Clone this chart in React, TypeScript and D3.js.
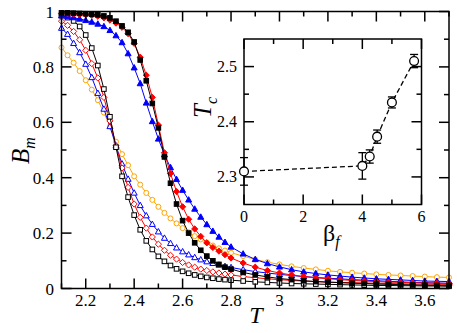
import React from 'react';
import * as d3 from 'd3';

// temperatures of the simulation points
const temps = [
  2.1, 2.125, 2.15, 2.175, 2.2, 2.225, 2.25, 2.275, 2.3, 2.325,
  2.35, 2.375, 2.4, 2.425, 2.45, 2.475, 2.5, 2.525, 2.55, 2.575,
  2.6, 2.625, 2.65, 2.675, 2.7, 2.725, 2.75, 2.775, 2.8,
  2.85, 2.9, 2.95, 3.0, 3.05, 3.1, 3.15, 3.2, 3.25, 3.3,
  3.35, 3.4, 3.45, 3.5, 3.55, 3.6, 3.65, 3.7,
];

const blackFilled = [
  0.995, 0.995, 0.994, 0.993, 0.992, 0.99, 0.988, 0.984, 0.977, 0.965,
  0.948, 0.925, 0.89, 0.825, 0.75, 0.668, 0.58, 0.475, 0.38, 0.305,
  0.245, 0.2, 0.165, 0.138, 0.117, 0.1, 0.087, 0.077, 0.07,
  0.058, 0.049, 0.042, 0.036, 0.032, 0.028, 0.025, 0.023, 0.021, 0.019,
  0.018, 0.016, 0.015, 0.014, 0.013, 0.012, 0.011, 0.011,
];
const redFilled = [
  0.993, 0.992, 0.991, 0.99, 0.988, 0.986, 0.983, 0.977, 0.969, 0.958,
  0.943, 0.92, 0.885, 0.835, 0.77, 0.69, 0.59, 0.49, 0.415, 0.35,
  0.295, 0.25, 0.215, 0.188, 0.165, 0.148, 0.135, 0.122, 0.11,
  0.092, 0.077, 0.065, 0.056, 0.049, 0.043, 0.039, 0.035, 0.032, 0.029,
  0.027, 0.025, 0.023, 0.022, 0.021, 0.02, 0.019, 0.018,
];
const blueFilled = [
  0.985, 0.982, 0.978, 0.973, 0.968, 0.962, 0.955, 0.946, 0.932, 0.913,
  0.888, 0.848, 0.797, 0.74, 0.67, 0.603, 0.54, 0.483, 0.437, 0.394,
  0.355, 0.32, 0.287, 0.258, 0.231, 0.207, 0.186, 0.167, 0.15,
  0.125, 0.105, 0.09, 0.078, 0.068, 0.06, 0.054, 0.049, 0.045, 0.041,
  0.038, 0.035, 0.033, 0.031, 0.029, 0.027, 0.026, 0.025,
];
const orangeOpen = [
  0.87, 0.842, 0.815, 0.785, 0.752, 0.718, 0.68, 0.635, 0.585, 0.53,
  0.485, 0.445, 0.405, 0.375, 0.345, 0.32, 0.295, 0.273, 0.253, 0.235,
  0.218, 0.203, 0.189, 0.177, 0.166, 0.155, 0.145, 0.137, 0.129,
  0.117, 0.105, 0.095, 0.087, 0.08, 0.074, 0.069, 0.064, 0.06, 0.057,
  0.054, 0.051, 0.049, 0.047, 0.045, 0.043, 0.041, 0.04,
];
const blueOpen = [
  0.94, 0.918, 0.885, 0.852, 0.81, 0.762, 0.705, 0.648, 0.585, 0.515,
  0.45, 0.395, 0.345, 0.3, 0.263, 0.232, 0.205, 0.182, 0.163, 0.147,
  0.133, 0.122, 0.112, 0.104, 0.097, 0.091, 0.085, 0.08, 0.076,
  0.068, 0.061, 0.056, 0.051, 0.047, 0.043, 0.04, 0.037, 0.035, 0.032,
  0.03, 0.028, 0.026, 0.024, 0.022, 0.021, 0.02, 0.019,
];
const redOpen = [
  0.965, 0.95, 0.928, 0.898, 0.86, 0.812, 0.76, 0.69, 0.605, 0.515,
  0.435, 0.365, 0.305, 0.257, 0.218, 0.186, 0.16, 0.138, 0.12, 0.106,
  0.094, 0.085, 0.077, 0.07, 0.065, 0.06, 0.056, 0.052, 0.049,
  0.043, 0.039, 0.035, 0.032, 0.029, 0.027, 0.025, 0.023, 0.022, 0.021,
  0.02, 0.019, 0.018, 0.017, 0.016, 0.016, 0.015, 0.015,
];
const blackOpen = [
  0.985, 0.978, 0.966, 0.946, 0.915, 0.868, 0.805, 0.72, 0.62, 0.51,
  0.405, 0.33, 0.265, 0.212, 0.172, 0.141, 0.116, 0.098, 0.083, 0.071,
  0.062, 0.055, 0.049, 0.044, 0.04, 0.037, 0.034, 0.032, 0.03,
  0.027, 0.024, 0.022, 0.02, 0.018, 0.017, 0.016, 0.015, 0.014, 0.013,
  0.012, 0.011, 0.011, 0.01, 0.01, 0.009, 0.009, 0.008,
];

// inset: Tc vs beta_f
const betaF = [0, 4, 4.25, 4.5, 5, 5.75];
const tc = [2.31, 2.32, 2.337, 2.373, 2.435, 2.51];
const tcErr = [0.025, 0.024, 0.012, 0.012, 0.01, 0.012];

const xTicks = [2.2, 2.4, 2.6, 2.8, 3, 3.2, 3.4, 3.6];
const xMinor = [2.1, 2.3, 2.5, 2.7, 2.9, 3.1, 3.3, 3.5, 3.7];
const yTicks = [0, 0.2, 0.4, 0.6, 0.8, 1];
const yMinor = [0.1, 0.3, 0.5, 0.7, 0.9];
const insetXTicks = [0, 2, 4, 6];
const insetXMinor = [1, 3, 5];
const insetYTicks = [2.3, 2.4, 2.5];
const insetYMinor = [2.35, 2.45];

const series = [
  { vals: orangeOpen, color: '#ffa500', shape: 'circle', filled: false },
  { vals: blueOpen, color: '#0000ff', shape: 'triangle', filled: false },
  { vals: redOpen, color: '#ff0000', shape: 'diamond', filled: false },
  { vals: blackOpen, color: '#000000', shape: 'square', filled: false },
  { vals: blueFilled, color: '#0000ff', shape: 'triangle', filled: true },
  { vals: redFilled, color: '#ff0000', shape: 'diamond', filled: true },
  { vals: blackFilled, color: '#000000', shape: 'square', filled: true },
];

const W = 457, H = 333;
const serif = { fontFamily: "'Liberation Serif', 'Times New Roman', Times, serif" };

const Marker = ({ shape, x, y, color, filled }) => {
  const fill = filled ? color : 'white';
  const sw = 1;
  if (shape === 'square')
    return <rect x={x - 2.3} y={y - 2.3} width={4.6} height={4.6} fill={fill} stroke={color} strokeWidth={sw} />;
  if (shape === 'circle')
    return <circle cx={x} cy={y} r={2.5} fill={fill} stroke={color} strokeWidth={sw} />;
  if (shape === 'diamond')
    return <path d={`M${x},${y - 3.1}L${x + 3.1},${y}L${x},${y + 3.1}L${x - 3.1},${y}Z`} fill={fill} stroke={color} strokeWidth={sw} />;
  return <path d={`M${x},${y - 3.2}L${x + 3},${y + 2.2}L${x - 3},${y + 2.2}Z`} fill={fill} stroke={color} strokeWidth={sw} />;
};

export default function App() {
  const x = d3.scaleLinear().domain([2.1, 3.7]).range([61.5, 449]);
  const y = d3.scaleLinear().domain([0, 1]).range([288.5, 11.5]);

  const ix = d3.scaleLinear().domain([0, 6]).range([244, 421.5]);
  const iy = d3.scaleLinear().domain([2.25, 2.55]).range([204.5, 39]);

  const line = d3.line<number>().x((_, i) => x(temps[i])).y(d => y(d));
  const insetLine = d3.line<number>().x((_, i) => ix(betaF[i])).y(d => iy(d));

  const [x0, x1] = x.range();
  const [y0, y1] = y.range();
  const [ix0, ix1] = ix.range();
  const [iy0, iy1] = iy.range();

  return (
    <svg width={W} height={H} style={{ position: 'absolute', left: 0, top: 0, background: 'white' }}>
      {/* curves */}
      {series.map((s, k) => (
        <g key={k}>
          <path d={line(s.vals)} fill="none" stroke={s.color} strokeWidth={1} />
          {s.vals.map((v, i) => (
            <Marker key={i} shape={s.shape} x={x(temps[i])} y={y(v)} color={s.color} filled={s.filled} />
          ))}
        </g>
      ))}

      {/* main frame and ticks */}
      <g stroke="black" strokeWidth={1.5}>
        <rect x={x0} y={y1} width={x1 - x0} height={y0 - y1} fill="none" />
        {xTicks.map(t => (
          <g key={t}>
            <line x1={x(t)} x2={x(t)} y1={y0} y2={y0 - 10} />
            <line x1={x(t)} x2={x(t)} y1={y1} y2={y1 + 10} />
          </g>
        ))}
        {xMinor.map(t => (
          <g key={t}>
            <line x1={x(t)} x2={x(t)} y1={y0} y2={y0 - 5} />
            <line x1={x(t)} x2={x(t)} y1={y1} y2={y1 + 5} />
          </g>
        ))}
        {yTicks.map(t => (
          <g key={t}>
            <line x1={x0} x2={x0 + 10} y1={y(t)} y2={y(t)} />
            <line x1={x1} x2={x1 - 10} y1={y(t)} y2={y(t)} />
          </g>
        ))}
        {yMinor.map(t => (
          <g key={t}>
            <line x1={x0} x2={x0 + 5} y1={y(t)} y2={y(t)} />
            <line x1={x1} x2={x1 - 5} y1={y(t)} y2={y(t)} />
          </g>
        ))}
      </g>
      <g style={serif} fontSize={17} fill="black">
        {xTicks.map(t => (
          <text key={t} x={x(t)} y={306} textAnchor="middle">{d3.format('~g')(t)}</text>
        ))}
        {yTicks.map(t => (
          <text key={t} x={54} y={y(t) + 6} textAnchor="end">{d3.format('~g')(t)}</text>
        ))}
      </g>
      <text x={256} y={323} textAnchor="middle" style={serif} fontSize={24} fontStyle="italic">T</text>
      <text transform="translate(29,164) rotate(-90)" style={serif} fontSize={25} fontStyle="italic">
        B<tspan fontSize={16} dy={6}>m</tspan>
      </text>

      {/* inset */}
      <rect x={ix0} y={iy1} width={ix1 - ix0} height={iy0 - iy1} fill="white" stroke="black" strokeWidth={1.5} />
      <g stroke="black" strokeWidth={1.5}>
        {insetXTicks.map(t => (
          <g key={t}>
            <line x1={ix(t)} x2={ix(t)} y1={iy0} y2={iy0 - 10} />
            <line x1={ix(t)} x2={ix(t)} y1={iy1} y2={iy1 + 10} />
          </g>
        ))}
        {insetXMinor.map(t => (
          <g key={t}>
            <line x1={ix(t)} x2={ix(t)} y1={iy0} y2={iy0 - 5} />
            <line x1={ix(t)} x2={ix(t)} y1={iy1} y2={iy1 + 5} />
          </g>
        ))}
        {insetYTicks.map(t => (
          <g key={t}>
            <line x1={ix0} x2={ix0 + 10} y1={iy(t)} y2={iy(t)} />
            <line x1={ix1} x2={ix1 - 10} y1={iy(t)} y2={iy(t)} />
          </g>
        ))}
        {insetYMinor.map(t => (
          <g key={t}>
            <line x1={ix0} x2={ix0 + 5} y1={iy(t)} y2={iy(t)} />
            <line x1={ix1} x2={ix1 - 5} y1={iy(t)} y2={iy(t)} />
          </g>
        ))}
      </g>
      <path d={insetLine(tc)} fill="none" stroke="black" strokeWidth={1.3} strokeDasharray="5,3" />
      <g stroke="black" strokeWidth={1.3}>
        {tc.map((v, i) => (
          <g key={i}>
            <line x1={ix(betaF[i])} x2={ix(betaF[i])} y1={iy(v - tcErr[i])} y2={iy(v + tcErr[i])} />
            <line x1={ix(betaF[i]) - 4} x2={ix(betaF[i]) + 4} y1={iy(v - tcErr[i])} y2={iy(v - tcErr[i])} />
            <line x1={ix(betaF[i]) - 4} x2={ix(betaF[i]) + 4} y1={iy(v + tcErr[i])} y2={iy(v + tcErr[i])} />
            <circle cx={ix(betaF[i])} cy={iy(v)} r={4.4} fill="white" />
          </g>
        ))}
      </g>
      <g style={serif} fontSize={16} fill="black">
        {insetXTicks.map(t => (
          <text key={t} x={ix(t)} y={222} textAnchor="middle">{t}</text>
        ))}
        {insetYTicks.map(t => (
          <text key={t} x={237} y={iy(t) + 5.5} textAnchor="end">{d3.format('.1f')(t)}</text>
        ))}
      </g>
      <text x={323} y={241} style={serif} fontSize={24}>
        β<tspan fontSize={16} fontStyle="italic" dy={6}>f</tspan>
      </text>
      <text transform="translate(211,118) rotate(-90)" style={serif} fontSize={25} fontStyle="italic">
        T<tspan fontSize={16} dy={6}>c</tspan>
      </text>
    </svg>
  );
}
